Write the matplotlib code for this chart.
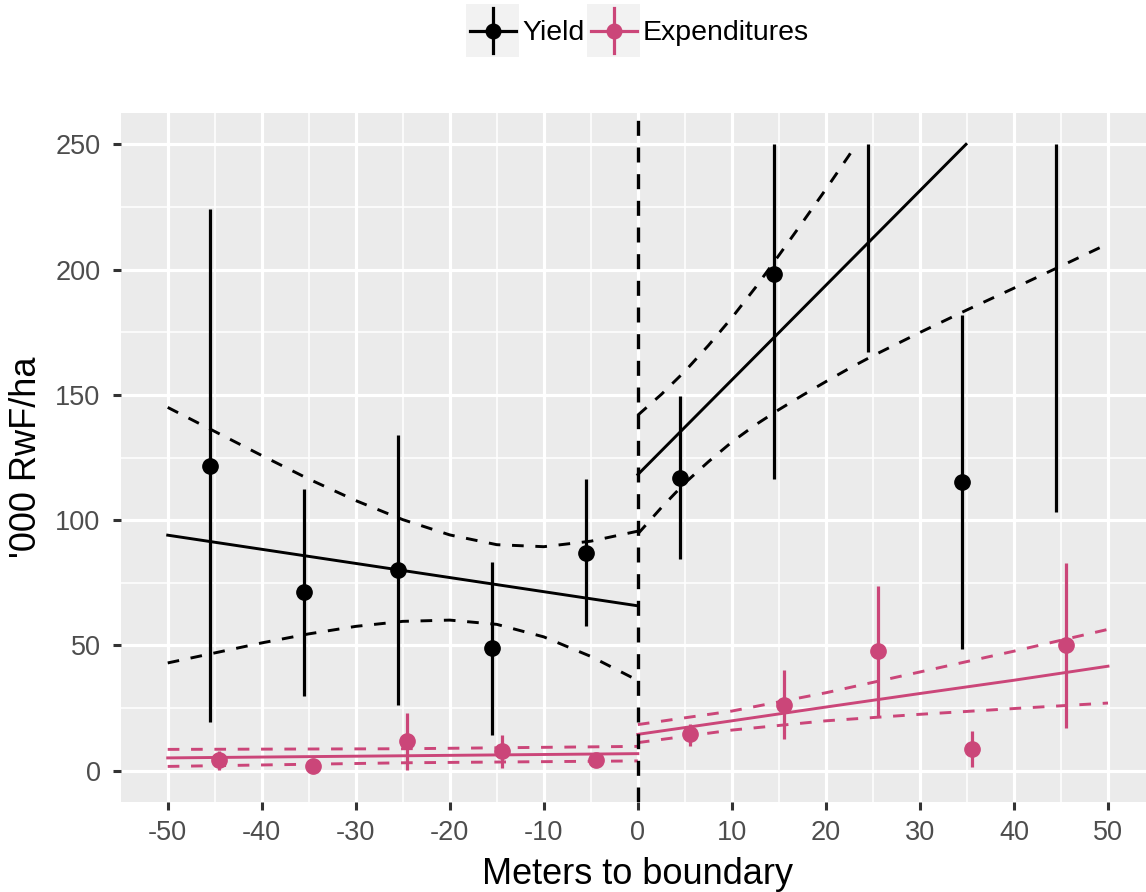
import numpy as np
import matplotlib.pyplot as plt
from matplotlib.lines import Line2D
from matplotlib.patches import Rectangle

plt.rcParams['font.family'] = ['Liberation Sans', 'DejaVu Sans']
plt.rcParams['axes.unicode_minus'] = False

# ------------------------------------------------------------------
# binned means with 95% intervals (NaN = mean above the plotted range)
# ------------------------------------------------------------------
yield_x = [-45.5, -35.5, -25.5, -15.5, -5.5, 4.5, 14.5, 24.5, 34.5, 44.5]
yield_y = [121.8, 71.4, 80.1, 49.1, 87.0, 117.0, 198.3, np.nan, 115.3, np.nan]
yield_lo = [19.4, 30.0, 26.1, 14.4, 57.6, 84.3, 116.6, 167.2, 48.6, 103.4]
yield_hi = [224.0, 112.5, 133.8, 83.3, 116.6, 149.6, 250.0, 250.0, 181.8, 250.0]

exp_x = [-44.5, -34.5, -24.5, -14.5, -4.5, 5.5, 15.5, 25.5, 35.5, 45.5]
exp_y = [4.1, 1.7, 11.7, 7.7, 4.1, 14.5, 26.4, 47.7, 8.8, 50.1]
exp_lo = [0.4, 0.5, 0.4, 1.1, 2.6, 9.9, 12.5, 21.9, 1.6, 16.9]
exp_hi = [7.7, 3.0, 23.0, 14.4, 5.6, 18.5, 40.3, 73.6, 16.0, 82.9]

# ------------------------------------------------------------------
# local linear fits and confidence bands, each side of the boundary
# ------------------------------------------------------------------
band_left_x = [-50, -45, -40, -35, -30, -25, -20, -15, -10, -5, 0]
yield_fit_left = [94.0, 65.8]
yield_upr_left = [145.0, 135.4, 125.8, 116.4, 107.8, 100.2, 94.1, 90.2, 89.4, 91.6, 95.6]
yield_lwr_left = [43.0, 47.0, 51.0, 54.6, 57.6, 59.6, 60.1, 58.4, 53.4, 45.6, 36.0]

yield_fit_right_x = [0, 34.9]
yield_fit_right = [118.2, 250.0]
yield_upr_right_x = [0, 2.5, 5, 7.5, 10, 12.5, 15, 17.5, 20, 22.5, 23.2]
yield_upr_right = [141.9, 150.2, 159.4, 169.7, 180.8, 192.8, 205.7, 218.8, 232.1, 245.8, 250.0]
yield_lwr_right_x = [0, 2.5, 5, 7.5, 10, 12.5, 15, 17.5, 20, 22.5, 25, 30, 35, 40, 45, 50]
yield_lwr_right = [94.5, 105.0, 114.8, 123.3, 131.2, 138.0, 144.1, 149.8, 155.3, 160.6,
                   165.6, 174.9, 183.9, 192.6, 201.4, 210.3]

exp_band_left_x = [-50, -25, 0]
exp_fit_left = [5.1, 5.95, 6.8]
exp_upr_left = [8.5, 8.75, 9.7]
exp_lwr_left = [1.7, 3.15, 3.9]

exp_band_right_x = [0, 10, 20, 30, 40, 50]
exp_fit_right = [14.5, 19.9, 25.4, 30.8, 36.1, 41.7]
exp_upr_right = [18.4, 23.8, 31.1, 39.4, 47.7, 56.4]
exp_lwr_right = [11.2, 16.2, 19.9, 22.5, 24.8, 27.0]

x_ticks = [-50, -40, -30, -20, -10, 0, 10, 20, 30, 40, 50]
y_ticks = [0, 50, 100, 150, 200, 250]

BLACK = '#000000'
PINK = '#CB4679'

W, H = 1146, 892
fig = plt.figure(figsize=(W / 100, H / 100), dpi=100)

# panel spans -55..55 m; the right margin runs past the figure edge
p_left, p_right, p_top, p_bot = 120.7, 1155.0, 113.0, 802.0
ax = fig.add_axes([p_left / W, 1 - p_bot / H, (p_right - p_left) / W, (p_bot - p_top) / H])
ax.set_xlim(-55, 55)
ax.set_ylim(-12.5, 262.5)

ax.set_facecolor('#EBEBEB')
for s in ax.spines.values():
    s.set_visible(False)
ax.set_xticks(x_ticks)
ax.set_xticklabels([str(t) for t in x_ticks])
ax.set_yticks(y_ticks)
ax.set_xticks(np.arange(-45, 50, 10), minor=True)
ax.set_yticks(np.arange(25, 250, 50), minor=True)
ax.grid(which='major', color='white', linewidth=2.3)
ax.grid(which='minor', color='white', linewidth=1.1)
ax.set_axisbelow(True)
ax.tick_params(which='major', length=6, width=2.2, color='#333333',
               labelsize=19.5, labelcolor='#4D4D4D')
ax.tick_params(axis='y', which='major', pad=8.5)
ax.tick_params(axis='x', which='major', pad=7)
ax.tick_params(which='minor', length=0)

dash = (0, (4, 4))
lw_fit = 2.1

# yield fits
ax.plot([band_left_x[0], band_left_x[-1]], yield_fit_left, color=BLACK, lw=lw_fit)
ax.plot(band_left_x, yield_upr_left, color=BLACK, lw=lw_fit, ls=dash)
ax.plot(band_left_x, yield_lwr_left, color=BLACK, lw=lw_fit, ls=dash)
ax.plot(yield_fit_right_x, yield_fit_right, color=BLACK, lw=lw_fit)
ax.plot(yield_upr_right_x, yield_upr_right, color=BLACK, lw=lw_fit, ls=dash)
ax.plot(yield_lwr_right_x, yield_lwr_right, color=BLACK, lw=lw_fit, ls=dash)

# expenditure fits
ax.plot(exp_band_left_x, exp_fit_left, color=PINK, lw=lw_fit)
ax.plot(exp_band_left_x, exp_upr_left, color=PINK, lw=lw_fit, ls=dash)
ax.plot(exp_band_left_x, exp_lwr_left, color=PINK, lw=lw_fit, ls=dash)
ax.plot(exp_band_right_x, exp_fit_right, color=PINK, lw=lw_fit)
ax.plot(exp_band_right_x, exp_upr_right, color=PINK, lw=lw_fit, ls=dash)
ax.plot(exp_band_right_x, exp_lwr_right, color=PINK, lw=lw_fit, ls=dash)

# boundary
ax.axvline(0, color=BLACK, lw=2.4, ls=(0, (4.5, 3.5)))

# point ranges
ax.vlines(yield_x, yield_lo, yield_hi, color=BLACK, lw=2.3, zorder=4)
ax.plot(yield_x, yield_y, 'o', color=BLACK, ms=11, zorder=5)
ax.vlines(exp_x, exp_lo, exp_hi, color=PINK, lw=2.3, zorder=4)
ax.plot(exp_x, exp_y, 'o', color=PINK, ms=11, zorder=5)

ax.set_xlabel('Meters to boundary', fontsize=26, labelpad=8)
ax.set_ylabel("'000 RwF/ha", fontsize=26, labelpad=8)

# legend across the top
def fx(px):
    return px / W

def fy(py):
    return 1 - py / H

legend_items = [('Yield', BLACK, 466), ('Expenditures', PINK, 587)]
key = 53
for label, col, kx in legend_items:
    fig.add_artist(Rectangle((fx(kx), fy(4 + key)), key / W, key / H,
                             transform=fig.transFigure, facecolor='#F2F2F2',
                             edgecolor='none'))
    cx, cy = kx + key / 2, 4 + key / 2
    fig.add_artist(Line2D([fx(kx + 4), fx(kx + key - 3)], [fy(cy), fy(cy)],
                          transform=fig.transFigure, color=col, lw=2.3))
    fig.add_artist(Line2D([fx(cx), fx(cx)], [fy(8), fy(53)],
                          transform=fig.transFigure, color=col, lw=2.3))
    fig.add_artist(Line2D([fx(cx)], [fy(cy)], marker='o', ms=10.5,
                          transform=fig.transFigure, color=col))
    fig.text(fx(kx + key + 3), fy(cy + 3), label, fontsize=20.5, va='center', ha='left')

fig.savefig('out.png', dpi=100)
